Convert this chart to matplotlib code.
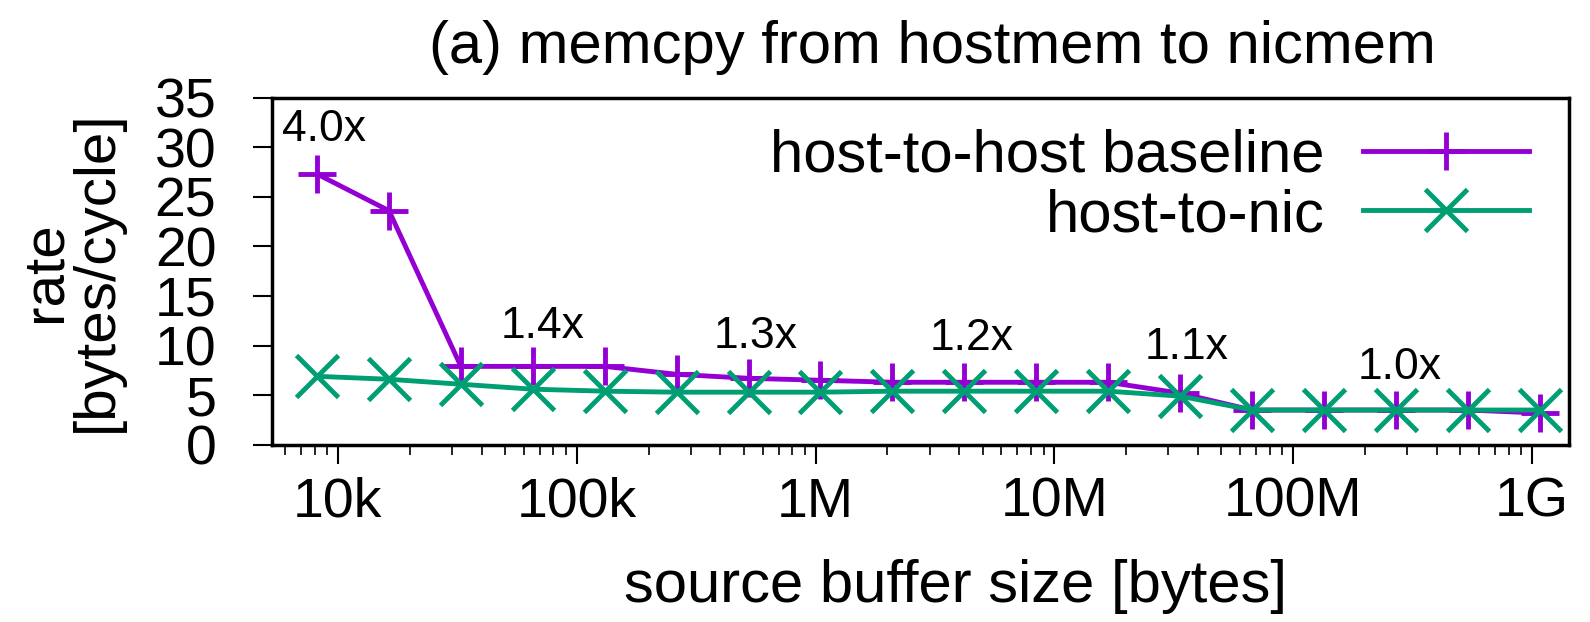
import matplotlib
matplotlib.use("Agg")
import matplotlib.pyplot as plt
from matplotlib.ticker import FixedLocator, LogLocator, NullFormatter

plt.rcParams["font.family"] = ["Liberation Sans", "DejaVu Sans"]

sizes = [2 ** k for k in range(13, 31)]
baseline = [27.3, 23.6, 7.9, 7.9, 7.9, 7.1, 6.7, 6.5, 6.3, 6.3, 6.3, 6.3, 5.2,
            3.5, 3.5, 3.5, 3.5, 3.2]
host_to_nic = [6.9, 6.6, 6.1, 5.6, 5.4, 5.3, 5.3, 5.3, 5.4, 5.4, 5.4, 5.4, 4.9,
               3.5, 3.5, 3.5, 3.5, 3.5]

speedup_labels = ["4.0x", "1.4x", "1.3x", "1.2x", "1.1x", "1.0x"]
speedup_x = [8740, 72000, 561000, 4.5e6, 3.56e7, 2.78e8]
speedup_y = [31.8, 11.9, 10.9, 10.7, 9.8, 7.8]

xticks = [1e4, 1e5, 1e6, 1e7, 1e8, 1e9]
xticklabels = ["10k", "100k", "1M", "10M", "100M", "1G"]

PURPLE = "#9400d3"
GREEN = "#009e73"


def main():
    fig = plt.figure(figsize=(15.9, 6.22), dpi=100)
    ax = fig.add_axes([0.171, 0.285, 0.816, 0.558])

    ax.plot(sizes, baseline, color=PURPLE, lw=3.5, marker="+", ms=28,
            mew=3.5, label="host-to-host baseline")
    ax.plot(sizes, host_to_nic, color=GREEN, lw=3.5, marker="x", ms=30,
            mew=3.5, label="host-to-nic")

    for lab, x, y in zip(speedup_labels, speedup_x, speedup_y):
        ax.text(x, y, lab, fontsize=32, ha="center", va="center")

    ax.set_xscale("log")
    ax.set_xlim(5300, 1.43e9)
    ax.set_ylim(0, 35)
    ax.set_yticks(range(0, 36, 5))
    ax.xaxis.set_major_locator(FixedLocator(xticks))
    ax.set_xticklabels(xticklabels)
    ax.xaxis.set_minor_locator(LogLocator(base=10, subs=range(2, 10)))
    ax.xaxis.set_minor_formatter(NullFormatter())

    ax.tick_params(axis="both", which="major", direction="out", length=14,
                   width=1.5, labelsize=40, top=False, right=False)
    ax.tick_params(axis="x", which="minor", direction="out", length=7,
                   width=1.2, top=False)
    ax.tick_params(axis="x", which="major", pad=9)
    ax.tick_params(axis="y", which="major", pad=26)
    for sp in ax.spines.values():
        sp.set_linewidth(2.5)

    ax.set_xlabel("source buffer size [bytes]", fontsize=43, labelpad=22,
                  x=0.527)
    ax.set_ylabel("rate\n[bytes/cycle]", fontsize=42, labelpad=22,
                  linespacing=0.95)
    ax.set_title("(a) memcpy from hostmem to nicmem", fontsize=43, pad=25,
                 x=0.509)

    ax.legend(loc="upper right", bbox_to_anchor=(0.969, 0.91), frameon=False,
              markerfirst=False, fontsize=43, handlelength=2.78,
              handletextpad=0.64, labelspacing=0.07, borderaxespad=0,
              borderpad=0)

    fig.savefig("out.png", dpi=100)


if __name__ == "__main__":
    main()
